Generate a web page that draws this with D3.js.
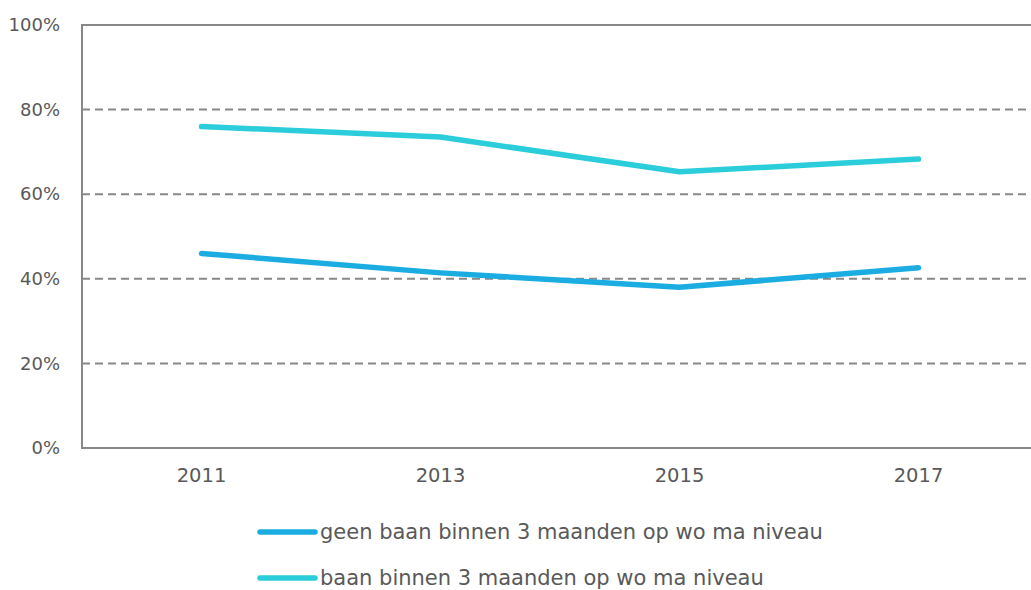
<!DOCTYPE html>
<html>
<head>
<meta charset="utf-8">
<script src="https://cdn.jsdelivr.net/npm/d3@7"></script>
<style>
  body { margin: 0; background: #fff; }
  text { font-family: "DejaVu Sans", sans-serif; fill: #595959; }
</style>
</head>
<body>
<div id="chart"></div>
<script>
var years = ["2011", "2013", "2015", "2017"];
var geenBaan = [0.46, 0.414, 0.38, 0.426];
var welBaan = [0.76, 0.735, 0.653, 0.683];
var seriesNames = ["geen baan binnen 3 maanden op wo ma niveau", "baan binnen 3 maanden op wo ma niveau"];
var yTicks = [0, 0.2, 0.4, 0.6, 0.8, 1];

var colors = ["#1badE2", "#2acdd9"];

// set the dimensions and margins of the graph
var margin = {top: 25, right: 0, bottom: 142, left: 82},
    width = 956,
    height = 423;

var svg = d3.select("#chart")
    .append("svg")
    .attr("width", 1031)
    .attr("height", 590)
    .append("g")
    .attr("transform", "translate(" + margin.left + "," + margin.top + ")");

var x = d3.scaleBand()
    .domain(years)
    .range([0, width]);

var y = d3.scaleLinear()
    .domain([0, 1])
    .range([height, 0]);

// dashed grid lines
svg.selectAll(".grid")
    .data(yTicks.filter(function(d) { return d > 0 && d < 1; }))
    .enter()
    .append("line")
    .attr("x1", 0)
    .attr("x2", width)
    .attr("y1", function(d) { return y(d); })
    .attr("y2", function(d) { return y(d); })
    .attr("stroke", "#888")
    .attr("stroke-width", 2)
    .attr("stroke-dasharray", "8,5");

// frame: top, left, bottom
svg.append("path")
    .attr("d", "M" + width + "," + y(1) + "H0V" + y(0) + "H" + width)
    .attr("fill", "none")
    .attr("stroke", "#888")
    .attr("stroke-width", 2);

// Y axis labels
var yAxis = svg.append("g")
    .call(d3.axisLeft(y).tickValues(yTicks).tickFormat(d3.format(".0%")).tickSize(0).tickPadding(22));
yAxis.select(".domain").remove();
yAxis.selectAll("text").attr("font-size", 18).style("font-family", null);

// X axis labels
var xAxis = svg.append("g")
    .attr("transform", "translate(0," + height + ")")
    .call(d3.axisBottom(x).tickSize(0).tickPadding(20));
xAxis.select(".domain").remove();
xAxis.selectAll("text").attr("font-size", 19.5).style("font-family", null);

var line = d3.line()
    .x(function(d, i) { return x(years[i]) + x.bandwidth() / 2; })
    .y(function(d) { return y(d); });

[geenBaan, welBaan].forEach(function(vals, i) {
    svg.append("path")
        .datum(vals)
        .attr("d", line)
        .attr("fill", "none")
        .attr("stroke", colors[i])
        .attr("stroke-width", 5.5)
        .attr("stroke-linecap", "round")
        .attr("stroke-linejoin", "round");
});

// legend
var legend = svg.append("g")
    .attr("transform", "translate(" + (260 - margin.left) + "," + (532 - margin.top) + ")");

seriesNames.forEach(function(name, i) {
    var g = legend.append("g").attr("transform", "translate(0," + (i * 46) + ")");
    g.append("line")
        .attr("x1", 0).attr("x2", 55)
        .attr("stroke", colors[i])
        .attr("stroke-width", 5.5)
        .attr("stroke-linecap", "round");
    g.append("text")
        .attr("x", 60)
        .attr("dy", "0.35em")
        .attr("font-size", 21)
        .text(name);
});
</script>
</body>
</html>
